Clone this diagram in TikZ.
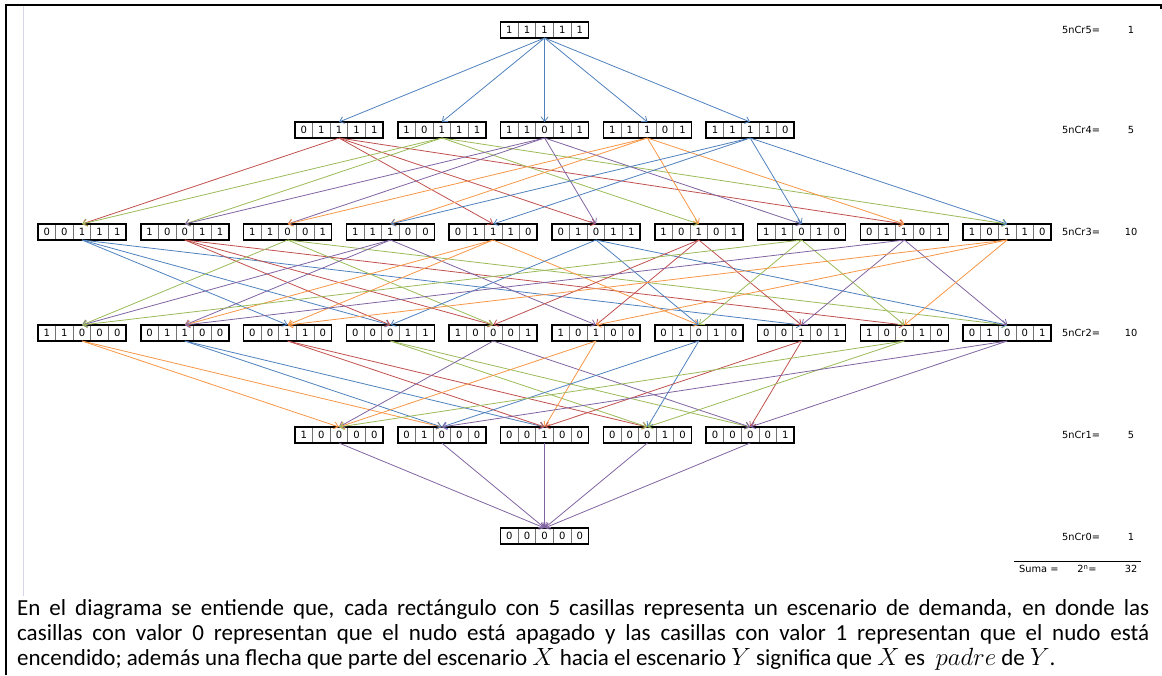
\documentclass[tikz,border=0pt]{standalone}
\usepackage{fontspec}
\setmainfont{Carlito}
\newfontfamily\cajafont{DejaVu Sans}
\usetikzlibrary{arrows.meta,calc}

\definecolor{azul}{HTML}{4F81BD}
\definecolor{rojo}{HTML}{C0504D}
\definecolor{verde}{HTML}{9BBB59}
\definecolor{morado}{HTML}{8064A2}
\definecolor{naranja}{HTML}{F79646}
\definecolor{margen}{RGB}{214,214,228}

% one scenario: a box of five cells named s<digits>
\newcommand\escenario[2]{%
  \node[caja] (s#1) at (#2) {};
  \foreach \i in {1,2,3,4}
    \draw[sep] ($(s#1.north west)+(\i*17.6,1)$) -- ($(s#1.south west)+(\i*17.6,-1)$);
  \cifras{s#1}#1\relax}
\def\cifras#1#2#3#4#5#6\relax{%
  \node[digito] (#1d1) at ($(#1.west)+(8.8,0)$) {#2};
  \node[digito] (#1d2) at ($(#1.west)+(26.4,0)$) {#3};
  \node[digito] (#1d3) at ($(#1.west)+(44,0)$) {#4};
  \node[digito] (#1d4) at ($(#1.west)+(61.6,0)$) {#5};
  \node[digito] (#1d5) at ($(#1.west)+(79.2,0)$) {#6};}

\begin{document}
\begin{tikzpicture}[x=1pt,y=-1pt,
  caja/.style={draw=black,line width=1.7pt,fill=white,minimum width=88pt,
    minimum height=16pt,inner sep=0pt,outer sep=0pt},
  digito/.style={font=\cajafont\fontsize{10}{10}\selectfont,inner sep=0pt},
  sep/.style={draw=black!55,line width=0.7pt},
  flecha/.style={line width=0.8pt,-{Straight Barb[length=4.5pt,width=7pt]}},
  etiqueta/.style={font=\cajafont\fontsize{9.8}{10}\selectfont,inner sep=0pt},
]
\useasboundingbox (0,0) rectangle (1162,675);

% page frame
\draw[line width=2pt] (1162,5) -- (6,5) -- (6,675);
\draw[line width=1.5pt] (1161,5) -- (1161,9);
\draw[margen,line width=1pt] (23,6) -- (23,596);

% level 5
\escenario{11111}{544.6,30}
% level 4
\escenario{01111}{339,130}
\escenario{10111}{441.8,130}
\escenario{11011}{544.6,130}
\escenario{11101}{647.4,130}
\escenario{11110}{750.2,130}
% level 3
\escenario{00111}{82,232}
\escenario{10011}{184.8,232}
\escenario{11001}{287.6,232}
\escenario{11100}{390.4,232}
\escenario{01110}{493.2,232}
\escenario{01011}{596,232}
\escenario{10101}{698.8,232}
\escenario{11010}{801.6,232}
\escenario{01101}{904.4,232}
\escenario{10110}{1007.2,232}
% level 2
\escenario{11000}{82,333}
\escenario{01100}{184.8,333}
\escenario{00110}{287.6,333}
\escenario{00011}{390.4,333}
\escenario{10001}{493.2,333}
\escenario{10100}{596,333}
\escenario{01010}{698.8,333}
\escenario{00101}{801.6,333}
\escenario{10010}{904.4,333}
\escenario{01001}{1007.2,333}
% level 1
\escenario{10000}{339,435}
\escenario{01000}{441.8,435}
\escenario{00100}{544.6,435}
\escenario{00010}{647.4,435}
\escenario{00001}{750.2,435}
% level 0
\escenario{00000}{544.6,536}

% parent -> child arrows, coloured by parent
\foreach \s/\c/\hijos in {
  11111/azul/{01111,10111,11011,11101,11110},
  01111/rojo/{00111,01011,01101,01110},
  10111/verde/{00111,10011,10101,10110},
  11011/morado/{01011,10011,11001,11010},
  11101/naranja/{01101,10101,11001,11100},
  11110/azul/{01110,10110,11010,11100},
  00111/azul/{00011,00101,00110},
  10011/rojo/{00011,10001,10010},
  11001/verde/{01001,10001,11000},
  11100/morado/{01100,10100,11000},
  01110/naranja/{00110,01010,01100},
  01011/azul/{00011,01001,01010},
  10101/rojo/{00101,10001,10100},
  11010/verde/{01010,10010,11000},
  01101/morado/{00101,01001,01100},
  10110/naranja/{00110,10010,10100},
  11000/naranja/{01000,10000},
  01100/azul/{00100,01000},
  00110/rojo/{00010,00100},
  00011/verde/{00001,00010},
  10001/morado/{00001,10000},
  10100/naranja/{00100,10000},
  01010/azul/{00010,01000},
  00101/rojo/{00001,00100},
  10010/verde/{00010,10000},
  01001/morado/{00001,01000},
  10000/morado/{00000},
  01000/morado/{00000},
  00100/morado/{00000},
  00010/morado/{00000},
  00001/morado/{00000}}
  \foreach \h in \hijos
    \draw[flecha,\c] (s\s.south) -- (s\h.north);

% combination counts
\foreach \k/\y/\v in {5/30/1,4/130/5,3/232/10,2/333/10,1/435/5,0/537/1}{
  \node[etiqueta,anchor=west] (c\k) at (1062,\y) {5nCr\k=};
  \node[etiqueta] (v\k) at (1131,\y) {\v};
}
\coordinate (ri) at (1014,561);
\coordinate (rf) at (1141,561);
\draw[line width=0.6pt] (ri) -- (rf);
\node[etiqueta,anchor=west] (suma) at (1019,569) {Suma =};
\node[etiqueta] (pot) at (1087,569) {2\textsuperscript{n}=};
\node[etiqueta] (total) at (1131,569) {32};

% explanatory paragraph
\node[anchor=base west,text width=1132pt,align=justify,inner sep=0pt,
  font=\fontsize{23}{25}\selectfont] (texto) at (17,615) {En el diagrama se entiende que, cada rectángulo con 5 casillas representa un escenario de demanda, en donde las\linebreak
casillas con valor 0 representan que el nudo está apagado y las casillas con valor 1 representan que el nudo está\linebreak
encendido; además una flecha que parte del escenario $X$ hacia el escenario $Y$ significa que $X$ es \ $padre$ de $Y$.};
\end{tikzpicture}
\end{document}
